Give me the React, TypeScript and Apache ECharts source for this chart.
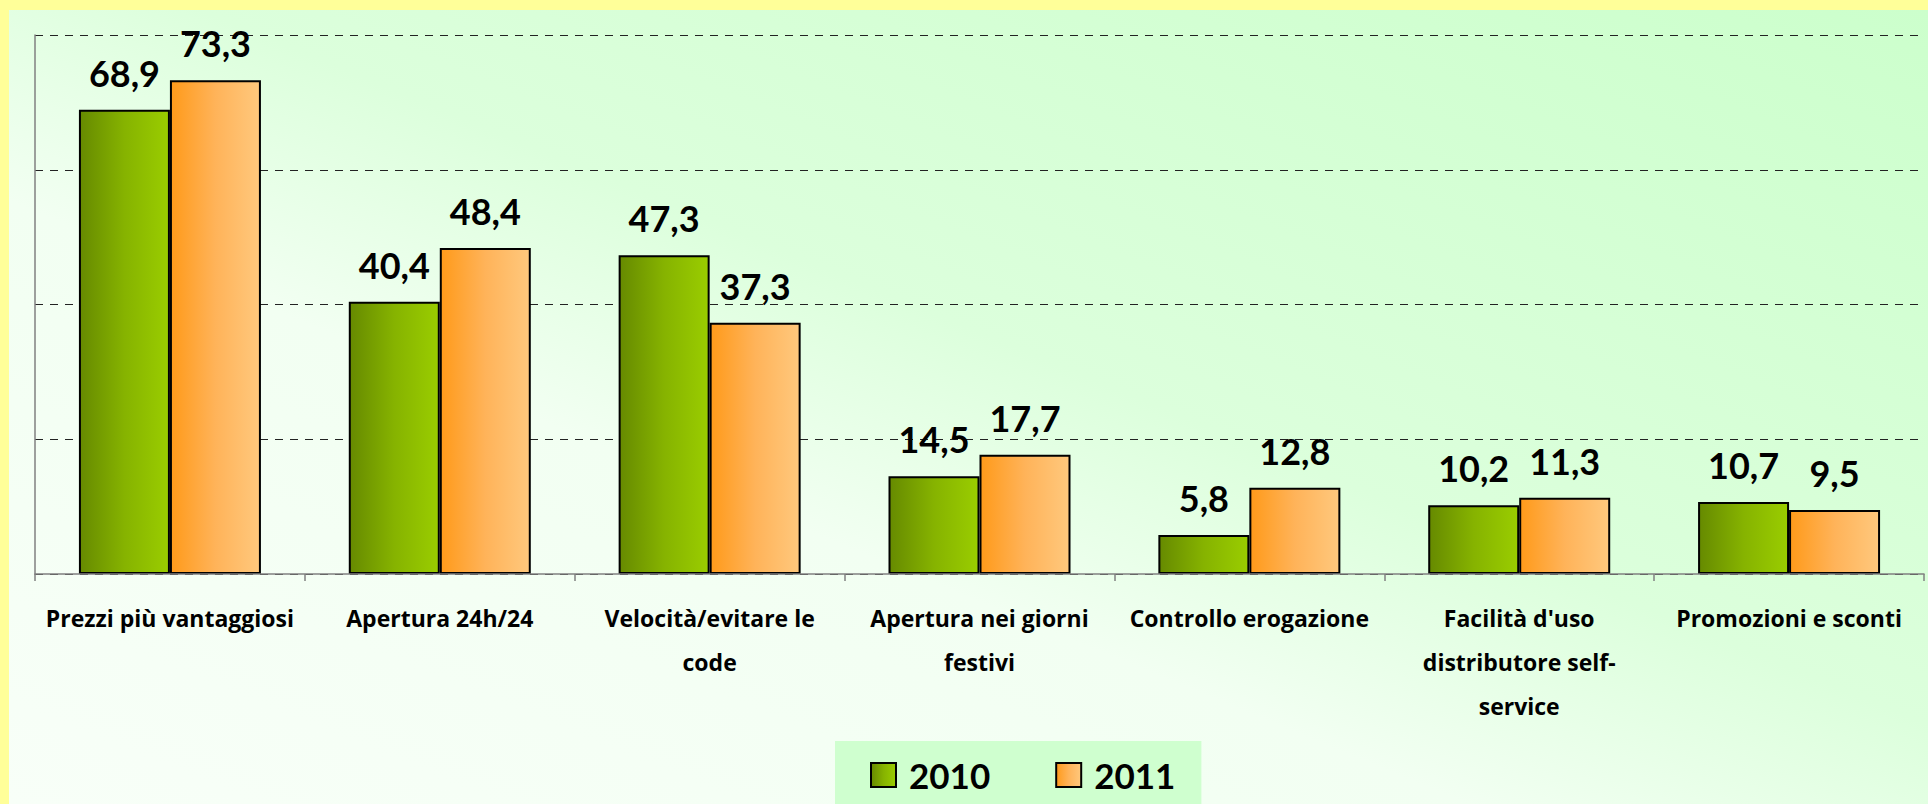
import React, { useEffect, useRef } from "react";
import * as echarts from "echarts";

const categories = [
  "Prezzi più vantaggiosi",
  "Apertura 24h/24",
  "Velocità/evitare le\ncode",
  "Apertura nei giorni\nfestivi",
  "Controllo erogazione",
  "Facilità d'uso\ndistributore self-\nservice",
  "Promozioni e sconti",
];
const seriesNames = ["2010", "2011"];
const values2010 = [68.9, 40.4, 47.3, 14.5, 5.8, 10.2, 10.7];
const values2011 = [73.3, 48.4, 37.3, 17.7, 12.8, 11.3, 9.5];
const yMin = 0;
const yMax = 80;
const yInterval = 20;

const FONT = "Lato";
const AXIS_FONT = "Open Sans";

export default function App() {
  const ref = useRef<HTMLDivElement>(null);

  useEffect(() => {
    if (!ref.current) return;
    const chart = echarts.init(ref.current, null, { renderer: "svg" });

    const greenGrad = new echarts.graphic.LinearGradient(0, 0, 1, 0, [
      { offset: 0, color: "#668A00" },
      { offset: 0.5, color: "#86B300" },
      { offset: 1, color: "#9ACD00" },
    ]);
    const orangeGrad = new echarts.graphic.LinearGradient(0, 0, 1, 0, [
      { offset: 0, color: "#FF9A1A" },
      { offset: 0.5, color: "#FFB359" },
      { offset: 1, color: "#FFC87D" },
    ]);
    const bgGrad = new echarts.graphic.LinearGradient(1, 0, 0, 1, [
      { offset: 0, color: "#CCFFCC" },
      { offset: 0.45, color: "#DCFFDC" },
      { offset: 0.62, color: "#F2FFF2" },
      { offset: 1, color: "#F8FFF8" },
    ]);

    const fmt = (p: any) => Number(p.value).toFixed(1).replace(".", ",");
    const labelStyle = {
      show: true,
      position: "top",
      distance: 19,
      formatter: fmt,
      fontFamily: FONT,
      fontWeight: "bold",
      fontSize: 36,
      color: "#000",
    };

    chart.setOption({
      animation: false,
      backgroundColor: "#FFFF99",
      graphic: [
        {
          type: "rect",
          z: -100,
          silent: true,
          shape: { x: 9, y: 10, width: 1919, height: 794 },
          style: { fill: bgGrad },
        },
      ],
      grid: { left: 35, right: 4, top: 35, bottom: 230, containLabel: false },
      legend: {
        data: seriesNames,
        left: 835,
        top: 741,
        padding: [16, 26, 11, 35],
        backgroundColor: "#CFFFCF",
        itemWidth: 25,
        itemHeight: 24,
        itemGap: 65,
        icon: "rect",
        itemStyle: { borderColor: "#000", borderWidth: 2 },
        textStyle: {
          fontFamily: FONT,
          fontWeight: "bold",
          fontSize: 35,
          lineHeight: 36,
          color: "#000",
          padding: [0, 0, 0, 8],
        },
      },
      xAxis: {
        type: "category",
        data: categories,
        axisLine: { show: true, lineStyle: { color: "#808080", width: 1.5 } },
        axisTick: { show: true, length: 7, lineStyle: { color: "#808080", width: 1.5 } },
        axisLabel: {
          fontFamily: AXIS_FONT,
          fontWeight: "bold",
          fontSize: 23,
          lineHeight: 44,
          margin: 22,
          color: "#000",
          interval: 0,
        },
        z: 5,
      },
      yAxis: {
        type: "value",
        min: yMin,
        max: yMax,
        interval: yInterval,
        axisLabel: { show: false },
        axisTick: { show: false },
        axisLine: { show: true, lineStyle: { color: "#808080", width: 1.5 } },
        splitLine: {
          show: true,
          lineStyle: { color: "#222", width: 1.2, type: [8, 7] },
        },
      },
      series: [
        {
          name: seriesNames[0],
          type: "bar",
          data: values2010,
          barWidth: 91,
          barGap: "0%",
          itemStyle: { color: greenGrad, borderColor: "#000", borderWidth: 2 },
          label: labelStyle,
        },
        {
          name: seriesNames[1],
          type: "bar",
          data: values2011,
          barWidth: 91,
          barGap: "0%",
          itemStyle: { color: orangeGrad, borderColor: "#000", borderWidth: 2 },
          label: labelStyle,
        },
      ],
    });

    return () => chart.dispose();
  }, []);

  return (
    <div
      ref={ref}
      style={{ position: "fixed", left: 0, top: 0, width: 1928, height: 804 }}
    />
  );
}
